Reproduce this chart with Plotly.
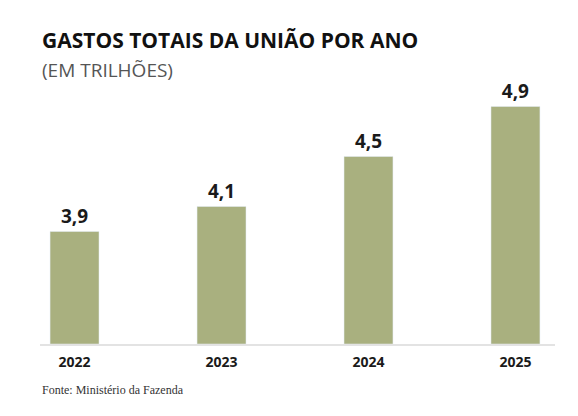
import plotly.graph_objects as go

years = ["2022", "2023", "2024", "2025"]
values = [3.9, 4.1, 4.5, 4.9]
labels = ["3,9", "4,1", "4,5", "4,9"]

xs = list(range(len(years)))
fig = go.Figure(go.Bar(
    x=xs, y=[v - 3.0 for v in values], base=3.0, width=0.333, marker_color="#a9b07f",
    text=labels, textposition="outside", cliponaxis=False,
    textfont=dict(family="Open Sans", size=19, color="#1a1a1a", weight="bold"),
    hoverinfo="skip"))
fig.update_layout(
    width=578, height=416, margin=dict(l=32, r=31, t=72, b=80),
    plot_bgcolor="white", paper_bgcolor="white", showlegend=False,
    xaxis=dict(range=[-0.235, 3.269], tickvals=xs, ticktext=years,
               showgrid=False, showline=True, linecolor="#e3e3e3", linewidth=2,
               tickfont=dict(family="Open Sans", size=14, color="#1a1a1a", weight="bold"),
               ticks="", ticklabelstandoff=4),
    yaxis=dict(range=[3.0, 5.112], visible=False),
    annotations=[
        dict(text="<b>GASTOS TOTAIS DA UNIÃO POR ANO</b>", xref="paper", yref="paper",
             x=0.0, y=1.152, xanchor="left", yanchor="middle", showarrow=False,
             font=dict(family="Open Sans", size=21, color="#111")),
        dict(text="(EM TRILHÕES)", xref="paper", yref="paper",
             x=0.0, y=1.038, xanchor="left", yanchor="middle", showarrow=False,
             font=dict(family="Open Sans", size=19, color="#555")),
        dict(text="Fonte: Ministério da Fazenda", xref="paper", yref="paper",
             x=0.0, y=-0.174, xanchor="left", yanchor="middle", showarrow=False,
             font=dict(family="Liberation Serif", size=12, color="#333")),
    ])
fig.write_html("out.html")
